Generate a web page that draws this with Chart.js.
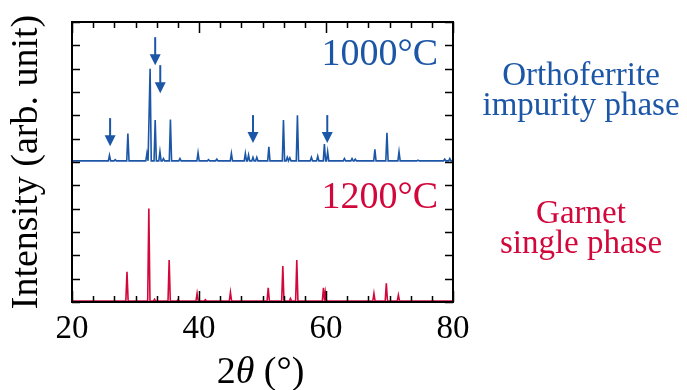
<!DOCTYPE html>
<html>
<head>
<meta charset="utf-8">
<script src="https://cdn.jsdelivr.net/npm/chart.js@4.4.0/dist/chart.umd.min.js"></script>
<style>
  html, body { margin: 0; padding: 0; background: #fff; }
  #xrd { display: block; }
</style>
</head>
<body>
<canvas id="xrd" width="687" height="390"></canvas>
<script>
// XRD patterns, offset vertically: 1000°C on top, 1200°C below
var blueColor = "#1c56a6";
var redColor = "#d2083c";

var xMajorTicks = [20, 40, 60, 80];
var xMinorSteps = 6;          // subdivisions between labelled ticks
var yTickValues = [0, 1, 2, 3, 4, 5, 6, 7, 8, 9, 10, 11, 12];

// 1000°C pattern: baseline level and peaks [2theta, intensity]
var base1000 = 6.05;
var peaks1000 = [
  [25.9, 6.29], [26.8, 6.1], [28.8, 7.22], [31.8, 6.37], [32.3, 10.0],
  [33.1, 7.8], [33.85, 6.45], [34.4, 6.15], [35.5, 7.82], [37.0, 6.15],
  [39.85, 6.4], [41.5, 6.1], [42.8, 6.12], [45.1, 6.37], [47.3, 6.37],
  [47.8, 6.3], [48.5, 6.2], [49.1, 6.2], [51.0, 6.65], [53.3, 7.8],
  [53.9, 6.2], [54.3, 6.18], [55.5, 8.0], [57.7, 6.2], [58.7, 6.25],
  [59.75, 6.77], [60.26, 6.44], [62.9, 6.15], [64.1, 6.15], [64.6, 6.12],
  [67.7, 6.54], [69.6, 7.25], [71.5, 6.44], [74.5, 6.08], [78.7, 6.12],
  [79.5, 6.15]
];

// 1200°C pattern
var base1200 = 0.04;
var peaks1200 = [
  [28.66, 1.30], [32.1, 4.01], [33.0, 0.12], [35.3, 1.80], [36.7, 0.10],
  [39.7, 0.37], [41.0, 0.10], [44.95, 0.41], [50.9, 0.61], [53.2, 1.54],
  [54.4, 0.15], [55.4, 1.80], [59.6, 0.61], [59.9, 0.40], [67.55, 0.37],
  [69.5, 0.80], [71.4, 0.30], [76.8, 0.07]
];

// arrows marking orthoferrite reflections: [2theta, tip intensity]
var arrows1000 = [[26.0, 6.68], [33.1, 10.15], [33.9, 8.95], [48.5, 6.81], [60.2, 6.81]];

var peakHalfWidth = 0.18;

function buildPattern(base, peaks) {
  var pts = [{ x: 20, y: base }];
  peaks.forEach(function (p) {
    pts.push({ x: p[0] - peakHalfWidth, y: base });
    pts.push({ x: p[0], y: p[1] });
    pts.push({ x: p[0] + peakHalfWidth, y: base });
  });
  pts.push({ x: 80, y: base });
  return pts;
}

var serif = "'Liberation Serif', 'Times New Roman', serif";

// frame, inward ticks, arrows and text labels
var decorations = {
  id: "decorations",
  afterDatasetsDraw: function (chart) {
    var ctx = chart.ctx;
    var a = chart.chartArea;
    var xs = chart.scales.x;
    var ys = chart.scales.y;
    ctx.save();

    // inward tick marks on all four sides
    ctx.strokeStyle = "#000";
    ctx.lineWidth = 1.5;
    ctx.beginPath();
    for (var i = 0; i < xMajorTicks.length; i++) {
      var v = xMajorTicks[i];
      var px = Math.round(xs.getPixelForValue(v)) + 0.5;
      ctx.moveTo(px, a.bottom); ctx.lineTo(px, a.bottom - 11);
      ctx.moveTo(px, a.top); ctx.lineTo(px, a.top + 11);
      if (i < xMajorTicks.length - 1) {
        var step = (xMajorTicks[i + 1] - v) / xMinorSteps;
        for (var k = 1; k < xMinorSteps; k++) {
          var mx = Math.round(xs.getPixelForValue(v + k * step)) + 0.5;
          ctx.moveTo(mx, a.bottom); ctx.lineTo(mx, a.bottom - 6);
          ctx.moveTo(mx, a.top); ctx.lineTo(mx, a.top + 6);
        }
      }
    }
    yTickValues.forEach(function (v) {
      var py = Math.round(ys.getPixelForValue(v)) + 0.5;
      ctx.moveTo(a.left, py); ctx.lineTo(a.left + 8, py);
      ctx.moveTo(a.right, py); ctx.lineTo(a.right - 8, py);
    });
    ctx.stroke();

    ctx.lineWidth = 2;
    ctx.strokeRect(a.left, a.top, a.right - a.left, a.bottom - a.top);

    // arrows
    ctx.strokeStyle = blueColor;
    ctx.fillStyle = blueColor;
    arrows1000.forEach(function (ar) {
      var ax = xs.getPixelForValue(ar[0]);
      var tip = ys.getPixelForValue(ar[1]);
      ctx.lineWidth = 2;
      ctx.beginPath();
      ctx.moveTo(ax, tip - 28);
      ctx.lineTo(ax, tip - 9);
      ctx.stroke();
      ctx.beginPath();
      ctx.moveTo(ax - 5.5, tip - 11);
      ctx.lineTo(ax + 5.5, tip - 11);
      ctx.lineTo(ax, tip);
      ctx.closePath();
      ctx.fill();
    });

    // temperature labels inside the plot
    ctx.font = "38px " + serif;
    ctx.textAlign = "right";
    ctx.textBaseline = "alphabetic";
    ctx.fillStyle = blueColor;
    ctx.fillText("1000°C", a.right - 15, a.top + 43);
    ctx.fillStyle = redColor;
    ctx.fillText("1200°C", a.right - 15, a.top + 186);

    // phase notes on the right
    ctx.font = "33px " + serif;
    ctx.textAlign = "center";
    ctx.fillStyle = blueColor;
    ctx.fillText("Orthoferrite", 581, 85);
    ctx.fillText("impurity phase", 581, 115);
    ctx.fillStyle = redColor;
    ctx.fillText("Garnet", 581, 223);
    ctx.fillText("single phase", 581, 253);

    // x axis title with italic theta
    ctx.fillStyle = "#000";
    ctx.textAlign = "left";
    var fN = "38px " + serif, fI = "italic 38px " + serif;
    var parts = [["2", fN], ["θ", fI], [" (°)", fN]];
    var total = 0;
    parts.forEach(function (p) { ctx.font = p[1]; total += ctx.measureText(p[0]).width; });
    var tx = (a.left + a.right) / 2 - 2 - total / 2;
    parts.forEach(function (p) {
      ctx.font = p[1];
      ctx.fillText(p[0], tx, 383);
      tx += ctx.measureText(p[0]).width;
    });
    ctx.restore();
  }
};

new Chart(document.getElementById("xrd"), {
  type: "line",
  data: {
    datasets: [
      {
        label: "1000°C",
        data: buildPattern(base1000, peaks1000),
        borderColor: blueColor,
        borderWidth: 1.6,
        pointRadius: 0,
        tension: 0
      },
      {
        label: "1200°C",
        data: buildPattern(base1200, peaks1200),
        borderColor: redColor,
        borderWidth: 1.6,
        pointRadius: 0,
        tension: 0
      }
    ]
  },
  options: {
    responsive: false,
    animation: false,
    devicePixelRatio: 1,
    layout: { padding: { left: 0, right: 234, top: 22, bottom: 0 } },
    plugins: { legend: { display: false }, tooltip: { enabled: false } },
    scales: {
      x: {
        type: "linear",
        min: 20,
        max: 80,
        grid: { display: false, drawTicks: false },
        border: { display: false },
        afterBuildTicks: function (scale) {
          scale.ticks = xMajorTicks.map(function (v) { return { value: v }; });
        },
        afterFit: function (scale) { scale.height = 88; },
        ticks: {
          color: "#000",
          padding: 8,
          maxRotation: 0,
          font: { family: serif, size: 33, lineHeight: 1.2 }
        }
      },
      y: {
        type: "linear",
        min: 0,
        max: 12,
        grid: { display: false, drawTicks: false },
        border: { display: false },
        ticks: { display: false },
        afterFit: function (scale) { scale.width = 72; },
        title: {
          display: true,
          text: "Intensity (arb. unit)",
          color: "#000",
          padding: { top: 4, bottom: 0 },
          font: { family: serif, size: 38, lineHeight: 1.2 }
        }
      }
    }
  },
  plugins: [decorations]
});
</script>
</body>
</html>
